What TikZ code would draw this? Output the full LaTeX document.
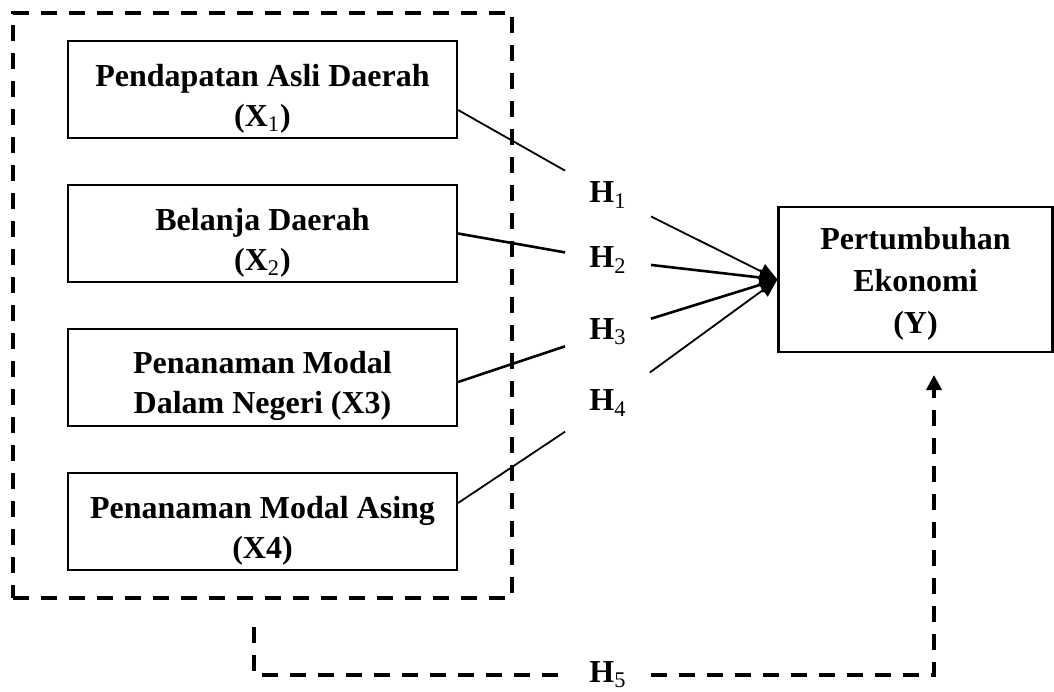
\documentclass[tikz,border=0pt]{standalone}
\usepackage{fontspec}
\setmainfont{Liberation Serif}
\usetikzlibrary{arrows.meta,fit}

\begin{document}
\begin{tikzpicture}[x=0.5pt, y=-0.5pt, node distance={72pt},
	main/.style = {draw, line width=1.1pt, align=center, minimum width=194.5pt, minimum height=48.5pt, inner ysep=0pt, text height=40pt, font=\bfseries\fontsize{16}{20}\selectfont},
	hyp/.style = {inner xsep=12pt, inner ysep=8.5pt, font=\bfseries\fontsize{16}{20}\selectfont},
	link/.style = {line width=0.9pt},
	dash line/.style = {line width=2pt, dash pattern=on 8pt off 6pt}]
	\useasboundingbox (0,0) rectangle (1054,691);

	%% Nodes
	\node[main] (x1) at (262.5,89.5) {Pendapatan Asli Daerah\\(X\textsubscript{\mdseries 1})};
	\node[main][below of=x1] (x2) {Belanja Daerah\\(X\textsubscript{\mdseries 2})};
	\node[main][below of=x2] (x3) {Penanaman Modal\\Dalam Negeri (X3)};
	\node[main][below of=x3] (x4) {Penanaman Modal Asing\\(X4)};

	\node[main, minimum width=137pt, minimum height=72.5pt, text height=57pt, font=\bfseries\fontsize{16}{21}\selectfont] (y) at (915.5,279.5) {Pertumbuhan\\Ekonomi\\(Y)};

	\node[hyp] (h1) at (608,195) {H\textsubscript{\mdseries 1}};
	\node[hyp] (h2) at (608,260) {H\textsubscript{\mdseries 2}};
	\node[hyp] (h3) at (608,332) {H\textsubscript{\mdseries 3}};
	\node[hyp] (h4) at (608,403) {H\textsubscript{\mdseries 4}};
	\node[hyp] (h5) at (608,675) {H\textsubscript{\mdseries 5}};

	\node[draw, dash line, fit=(x1)(x4), inner xsep=27pt, inner ysep=13.5pt] (frame) {};

	\coordinate (s) at (254,627);
	\coordinate (t) at (934,375);

	%% Edges
	\draw[link] ([yshift=-10.25pt]x1.east) -- (h1);
	\draw[link, line width=1.3pt] (x2.east) -- (h2);
	\draw[link, line width=1.3pt] ([yshift=-2.25pt]x3.east) -- (h3);
	\draw[link] ([yshift=9.25pt]x4.east) -- (h4);

	\draw[link, -{Triangle[length=9pt, width=8pt]}] (h1) -- (y.west);
	\draw[link, line width=1.3pt, -{Triangle[length=9pt, width=8pt]}] (h2) -- (y.west);
	\draw[link, line width=1.3pt, -{Triangle[length=9pt, width=8pt]}] (h3) -- (y.west);
	\draw[link, -{Triangle[length=9pt, width=8pt]}] (h4) -- (y.west);

	\draw[dash line] (s) |- (h5);
	\draw[dash line, -{Triangle[length=7.5pt, width=7.5pt]}] (h5) -| (t);
\end{tikzpicture}
\end{document}
